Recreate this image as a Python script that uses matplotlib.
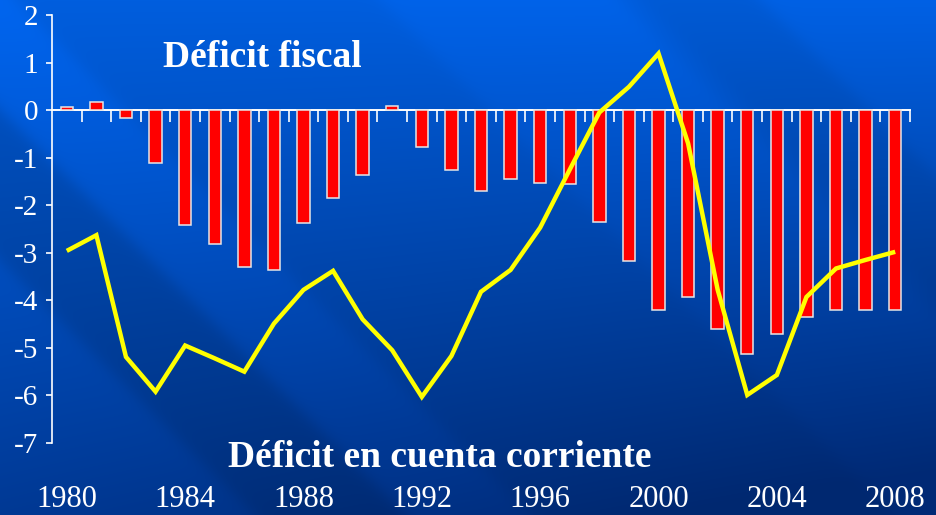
import matplotlib

matplotlib.use("Agg")
import matplotlib.pyplot as plt
import numpy as np
from matplotlib.ticker import FixedLocator, FuncFormatter


W, H = 936, 515

YEARS = list(range(1980, 2009))

# Fiscal deficit (% of GDP), red bars
FISCAL = [0.07, 0.17, -0.17, -1.12, -2.42, -2.82, -3.30, -3.37, -2.37, -1.84,
          -1.37, 0.08, -0.78, -1.26, -1.70, -1.44, -1.53, -1.56, -2.35, -3.18,
          -4.20, -3.93, -4.61, -5.12, -4.71, -4.35, -4.20, -4.20, -4.20]

# Current account deficit (% of GDP), yellow line
CURRENT = [-2.96, -2.63, -5.19, -5.92, -4.95, -5.22, -5.50, -4.49, -3.78, -3.38,
           -4.40, -5.05, -6.03, -5.17, -3.82, -3.36, -2.47, -1.25, -0.05, 0.49,
           1.19, -0.70, -3.78, -5.99, -5.57, -3.93, -3.33, -3.15, -2.98]

Y_TICKS = list(range(-7, 3))
YEAR_LABELS = [1980, 1984, 1988, 1992, 1996, 2000, 2004, 2008]

SERIF = "Liberation Serif"
plt.rcParams["axes.unicode_minus"] = False


def make_background() -> np.ndarray:
    yy, xx = np.mgrid[0:H, 0:W].astype(float)
    # darker toward the bottom, a bit more toward the bottom right
    t = np.clip(yy / H * (0.75 + 0.35 * xx / W), 0, 1)[..., None]
    top = np.array([0, 94, 222]) / 255
    bottom = np.array([0, 40, 112]) / 255
    img = top * (1 - t) + bottom * t

    # soft diagonal stripes running from upper left to lower right
    d = xx - yy
    shade = np.ones_like(d)
    bands = [(-600, -260, 1.06), (-260, -110, 0.93), (-110, 15, 1.08),
             (380, 620, 1.05), (640, 760, 0.96), (760, 1100, 1.03)]
    for lo, hi, f in bands:
        w = 1 / (1 + np.exp(-(d - lo) / 6)) * (1 / (1 + np.exp((d - hi) / 6)))
        shade = shade * (1 + (f - 1) * w)
    return np.clip(img * shade[..., None], 0, 1)


def main() -> None:
    fig = plt.figure(figsize=(W / 100, H / 100), dpi=100)

    bg = fig.add_axes([0, 0, 1, 1])
    bg.imshow(make_background(), aspect="auto", interpolation="bilinear")
    bg.axis("off")

    ax = fig.add_axes([52 / W, 1 - 443 / H, (910 - 52) / W, (443 - 15) / H])
    ax.patch.set_alpha(0)

    ax.bar(YEARS, FISCAL, width=0.42, color="#FF0000", edgecolor="#E6E6E6",
           linewidth=1.1, zorder=2)
    ax.plot(YEARS, CURRENT, color="#FFFF00", lw=3.2, zorder=3,
            solid_joinstyle="miter", solid_capstyle="butt")

    ax.set_xlim(1979.5, 2008.5)
    ax.set_ylim(-7, 2)

    for side in ["top", "right"]:
        ax.spines[side].set_visible(False)
    ax.spines["left"].set_color("white")
    ax.spines["left"].set_linewidth(1.2)
    ax.spines["bottom"].set_position(("data", 0))
    ax.spines["bottom"].set_color("white")
    ax.spines["bottom"].set_linewidth(1.4)
    ax.spines["bottom"].set_zorder(1)

    ax.xaxis.set_major_locator(FixedLocator(np.arange(1980.5, 2009, 1)))
    ax.tick_params(axis="x", direction="out", length=8.5, width=1.2,
                   color="white", labelbottom=False)

    ax.yaxis.set_major_locator(FixedLocator(Y_TICKS))
    ax.yaxis.set_major_formatter(FuncFormatter(lambda v, _: f"{int(v)}"))
    ax.tick_params(axis="y", direction="out", length=4, width=1.2,
                   color="white", labelcolor="white", labelsize=21, pad=6)
    for lbl in ax.get_yticklabels():
        lbl.set_fontfamily(SERIF)

    sec = ax.secondary_xaxis(0)
    sec.set_xticks(YEAR_LABELS)
    sec.set_xticklabels([str(y) for y in YEAR_LABELS], fontfamily=SERIF)
    sec.tick_params(length=0, pad=30, labelsize=22, labelcolor="white")
    sec.spines["bottom"].set_visible(False)

    fig.text(163 / W, 1 - 67 / H, "Déficit fiscal", color="white",
             fontsize=27, fontweight="bold", fontfamily=SERIF,
             ha="left", va="baseline")
    fig.text(228 / W, 1 - 467 / H, "Déficit en cuenta corriente", color="white",
             fontsize=27, fontweight="bold", fontfamily=SERIF,
             ha="left", va="baseline")

    fig.savefig("out.png", dpi=100)
    plt.close(fig)


if __name__ == "__main__":
    main()
